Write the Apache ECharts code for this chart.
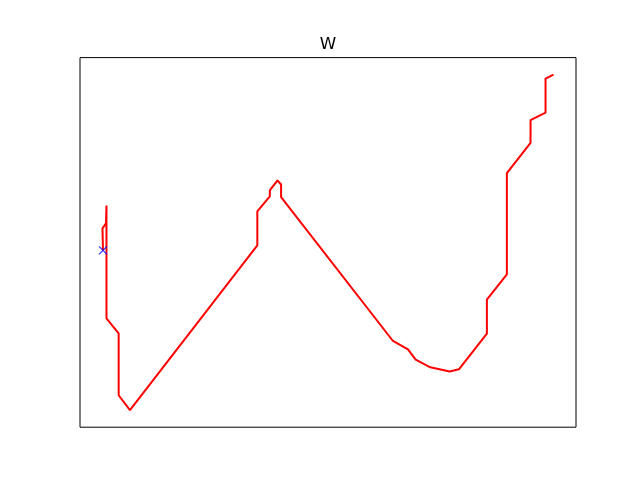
<!DOCTYPE html>
<html>
<head>
<meta charset="utf-8">
<script src="https://cdn.jsdelivr.net/npm/echarts@6/dist/echarts.min.js"></script>
<style>html,body{margin:0;padding:0;background:#fff}#c{width:640px;height:480px}</style>
</head>
<body>
<div id="c"></div>
<script>
const titleText = "W";
const pathX = [23, 22.5, 26, 26.5, 26.5, 38.7, 38.7, 50, 177.5, 177.5, 190, 190, 197.7, 201.3, 201.3, 313.3, 328.3, 336, 350.7, 370, 379.3, 407.3, 407.3, 427.3, 427.3, 451, 451, 466, 466, 474];
const pathY = [177, 199, 204, 222, 109, 94, 32, 17, 182, 216, 231, 237, 247, 243, 230.3, 86.3, 78, 67.7, 60, 55.7, 58, 93.7, 127.7, 153, 254.3, 284.7, 307.3, 315, 349, 353];
const startX = [23];
const startY = [177];

const lineData = pathX.map((x, i) => [x, pathY[i]]);
const startData = startX.map((x, i) => [x, startY[i]]);

const chart = echarts.init(document.getElementById('c'), null, {renderer: 'canvas'});
chart.setOption({
  animation: false,
  backgroundColor: '#ffffff',
  title: {
    text: titleText,
    left: 323, textAlign: 'center',
    top: 31,
    textStyle: {fontFamily: 'DejaVu Sans', fontSize: 16.67, fontWeight: 'normal', color: '#000'}
  },
  grid: {left: 80, right: 64, top: 57.6, bottom: 52.8, show: true, borderColor: '#000', borderWidth: 1, backgroundColor: 'transparent'},
  xAxis: {type: 'value', min: 0, max: 496.5, show: true, axisLine: {show: false}, axisTick: {show: false}, axisLabel: {show: false}, splitLine: {show: false}},
  yAxis: {type: 'value', min: 0, max: 370, show: true, axisLine: {show: false}, axisTick: {show: false}, axisLabel: {show: false}, splitLine: {show: false}},
  series: [
    {type: 'line', data: lineData, showSymbol: false, lineStyle: {color: '#ff0000', width: 2}, z: 2},
    {type: 'scatter', data: startData, symbol: 'path://M0,0L10,10M10,0L0,10', symbolSize: 8,
     itemStyle: {color: 'transparent', borderColor: '#0000ff', borderWidth: 1.3}, z: 3}
  ]
});
</script>
</body>
</html>
